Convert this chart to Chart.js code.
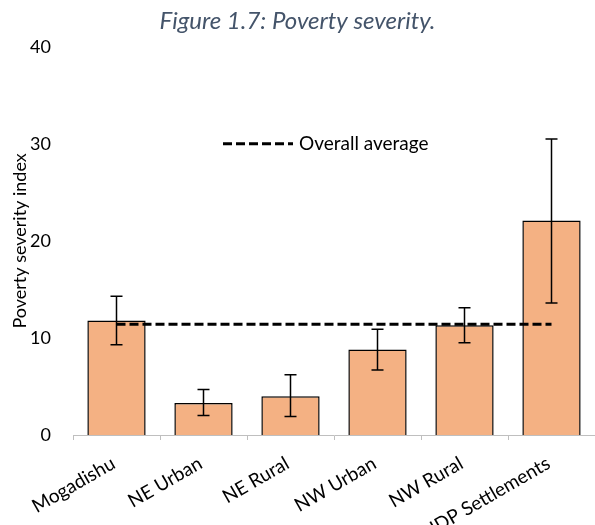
<!DOCTYPE html>
<html>
<head>
<meta charset="utf-8">
<script src="https://cdn.jsdelivr.net/npm/chart.js@4.4.1/dist/chart.umd.min.js"></script>
<style>
body { margin: 0; background: #fff; }
#wrap { width: 595px; height: 525px; }
</style>
</head>
<body>
<div id="wrap"><canvas id="povertyChart"></canvas></div>
<script>
// values
const regions = ["Mogadishu", "NE Urban", "NE Rural", "NW Urban", "NW Rural", "IDP Settlements"];
const severity = [11.8, 3.3, 4.0, 8.8, 11.3, 22.1];
const errLow = [9.3, 2.0, 1.9, 6.7, 9.5, 13.6];
const errHigh = [14.3, 4.7, 6.2, 10.9, 13.1, 30.5];
const overallAvg = [11.4, 11.4, 11.4, 11.4, 11.4, 11.4];
const yTicks = [0, 10, 20, 30, 40];

const fontName = "Lato, 'Open Sans', sans-serif";

// whiskers on top of the bars
const errorBars = {
    id: "errorBars",
    afterDatasetDraw(chart, args) {
        if (args.index !== 0) return;
        let ctx = chart.ctx;
        let y = chart.scales.y;
        let meta = chart.getDatasetMeta(0);
        ctx.save();
        ctx.strokeStyle = "#000";
        ctx.lineWidth = 1.5;
        meta.data.forEach((bar, i) => {
            let top = y.getPixelForValue(errHigh[i]);
            let bot = y.getPixelForValue(errLow[i]);
            ctx.beginPath();
            ctx.moveTo(bar.x, top);
            ctx.lineTo(bar.x, bot);
            ctx.moveTo(bar.x - 6, top);
            ctx.lineTo(bar.x + 6, top);
            ctx.moveTo(bar.x - 6, bot);
            ctx.lineTo(bar.x + 6, bot);
            ctx.stroke();
        });
        ctx.restore();
    }
};

// legend sitting inside the plot
const insideLegend = {
    id: "insideLegend",
    afterDraw(chart) {
        let ctx = chart.ctx;
        let ds = chart.data.datasets[1];
        let x0 = chart.chartArea.left + 150;
        let yy = chart.scales.y.getPixelForValue(30);
        ctx.save();
        ctx.strokeStyle = "#000";
        ctx.lineWidth = 3;
        ctx.setLineDash(ds.borderDash);
        ctx.beginPath();
        ctx.moveTo(x0, yy);
        ctx.lineTo(x0 + 70, yy);
        ctx.stroke();
        ctx.setLineDash([]);
        ctx.fillStyle = "#000";
        ctx.font = "19px " + fontName;
        ctx.textBaseline = "middle";
        ctx.fillText(ds.label, x0 + 76, yy);
        ctx.restore();
    }
};

const ctx = document.getElementById("povertyChart").getContext("2d");

const chart = new Chart(ctx, {
    type: "bar",
    data: {
        labels: regions,
        datasets: [
            {
                label: "Poverty severity",
                data: severity,
                backgroundColor: "#F4B183",
                borderColor: "#000",
                borderWidth: 1.5,
                categoryPercentage: 0.67,
                barPercentage: 1.0,
                order: 1
            },
            {
                type: "line",
                label: "Overall average",
                data: overallAvg,
                borderColor: "#000",
                borderWidth: 3,
                borderDash: [9, 4],
                pointRadius: 0,
                fill: false,
                order: 0
            }
        ]
    },
    options: {
        responsive: true,
        maintainAspectRatio: false,
        animation: false,
        layout: { padding: { left: 0, right: 0, top: 0, bottom: 0 } },
        plugins: {
            legend: { display: false },
            tooltip: { enabled: false },
            title: {
                display: true,
                text: "Figure 1.7: Poverty severity.",
                color: "#44546A",
                font: { family: fontName, size: 24, style: "italic", weight: "normal" },
                padding: { top: 7, bottom: 11 }
            }
        },
        scales: {
            x: {
                afterFit(scale) { scale.height = 90; },
                grid: {
                    display: true,
                    drawOnChartArea: false,
                    drawTicks: true,
                    tickLength: 5,
                    color: "#BFBFBF"
                },
                border: { display: true, color: "#BFBFBF", width: 1 },
                ticks: {
                    color: "#000",
                    font: { family: fontName, size: 19 },
                    minRotation: 30,
                    maxRotation: 30,
                    autoSkip: false,
                    labelOffset: -3,
                    padding: 12
                }
            },
            y: {
                min: 0,
                max: 40,
                afterFit(scale) { scale.width = 73; },
                afterBuildTicks(axis) {
                    axis.ticks = yTicks.map(v => ({ value: v }));
                },
                grid: { display: false },
                border: { display: false },
                ticks: {
                    color: "#000",
                    font: { family: fontName, size: 18 },
                    padding: 14
                },
                title: {
                    display: true,
                    text: "Poverty severity index",
                    color: "#000",
                    font: { family: fontName, size: 18 },
                    padding: { top: 9, bottom: 0 }
                }
            }
        }
    },
    plugins: [errorBars, insideLegend]
});
</script>
</body>
</html>
